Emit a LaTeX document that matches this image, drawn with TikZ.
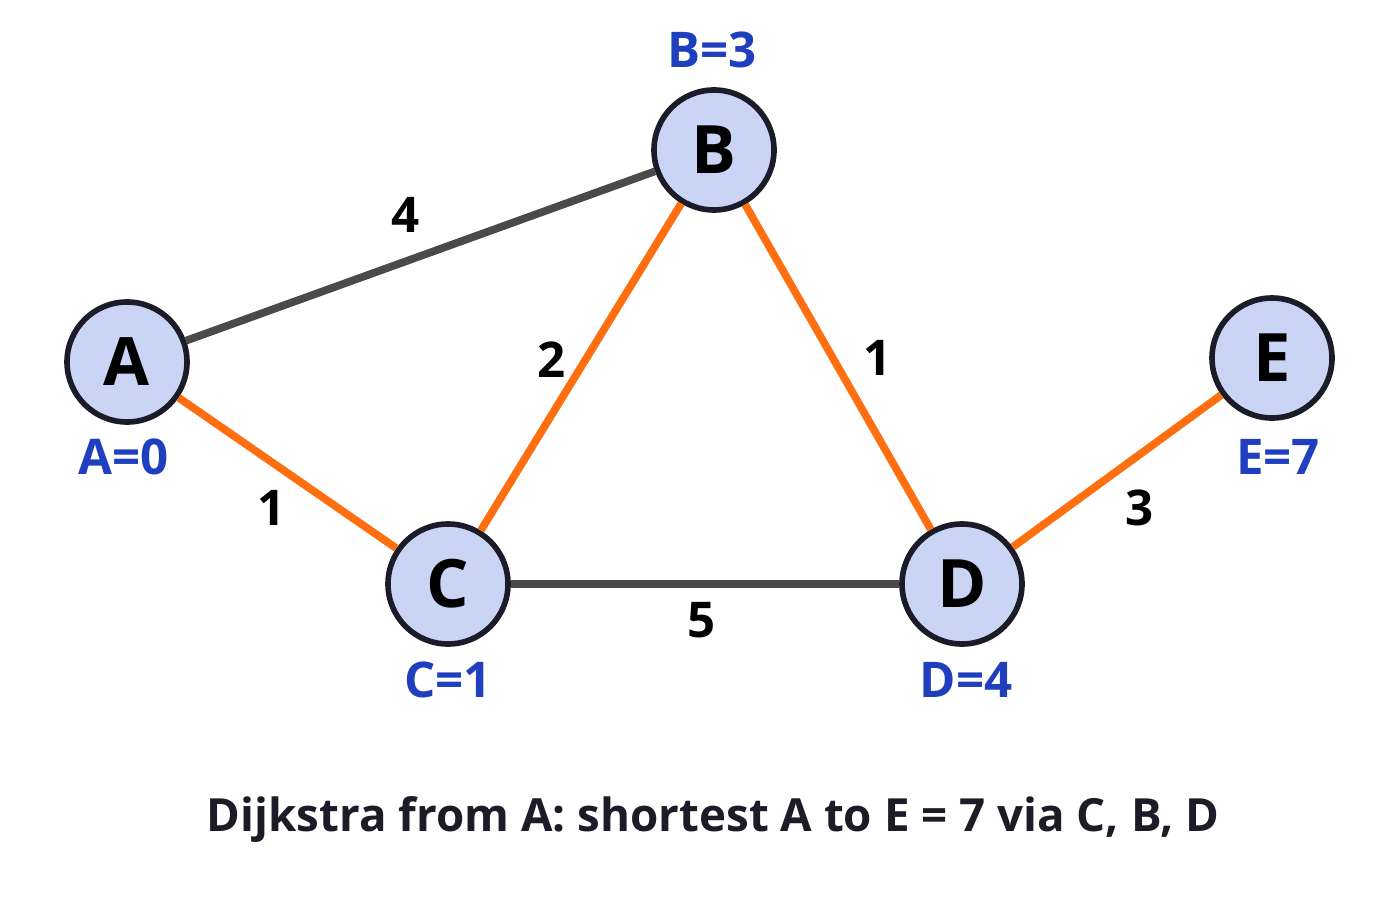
\documentclass[tikz,border=0pt]{standalone}
\usepackage{fontspec}
\setmainfont{Open Sans}
\usepackage{xcolor}
\definecolor{nodefill}{HTML}{CAD5F5}
\definecolor{nodeline}{HTML}{1C1C28}
\definecolor{pathorange}{HTML}{FF6F0F}
\definecolor{edgegray}{HTML}{4A4A4A}
\definecolor{distblue}{HTML}{1F3FBF}
\begin{document}
\begin{tikzpicture}[every text node part/.style={align=center}]
\tikzset{vertex/.style={circle,draw=nodeline,line width=1.6pt,fill=nodefill,minimum size=1.2cm,inner sep=0pt,font=\fontsize{19}{19}\selectfont\bfseries},
dist/.style={text=distblue,font=\fontsize{14}{14}\selectfont\bfseries},
weight/.style={font=\fontsize{14}{14}\selectfont\bfseries},
tree/.style={pathorange,line width=2.2pt},
other/.style={edgegray,line width=2.2pt}}
\useasboundingbox (0,0) rectangle (14,9);
\node[vertex] (a) at (1.27,5.38) {A};
\node[vertex] (b) at (7.14,7.50) {B};
\node[vertex] (c) at (4.48,3.16) {C};
\node[vertex] (d) at (9.62,3.16) {D};
\node[vertex] (e) at (12.72,5.42) {E};
\draw [other] (a) -- (b);
\draw [tree] (a) -- (c);
\draw [tree] (c) -- (b);
\draw [tree] (b) -- (d);
\draw [other] (c) -- (d);
\draw [tree] (d) -- (e);
\node[dist] (da) at (1.24,4.43) {A=0};
\node[dist] (db) at (7.12,8.50) {B=3};
\node[dist] (dc) at (4.48,2.20) {C=1};
\node[dist] (dd) at (9.66,2.20) {D=4};
\node[dist] (de) at (12.78,4.43) {E=7};
\node[weight] (wab) at (4.06,6.85) {4};
\node[weight] (wcb) at (5.52,5.40) {2};
\node[weight] (wbd) at (8.78,5.42) {1};
\node[weight] (wac) at (2.72,3.92) {1};
\node[weight] (wcd) at (7.02,2.80) {5};
\node[weight] (wde) at (11.40,3.92) {3};
\node[font=\fontsize{13}{13}\selectfont\bfseries,text=nodeline] (title) at (7.13,0.80) {Dijkstra from A: shortest A to E = 7 via C, B, D};
\end{tikzpicture}
\end{document}
